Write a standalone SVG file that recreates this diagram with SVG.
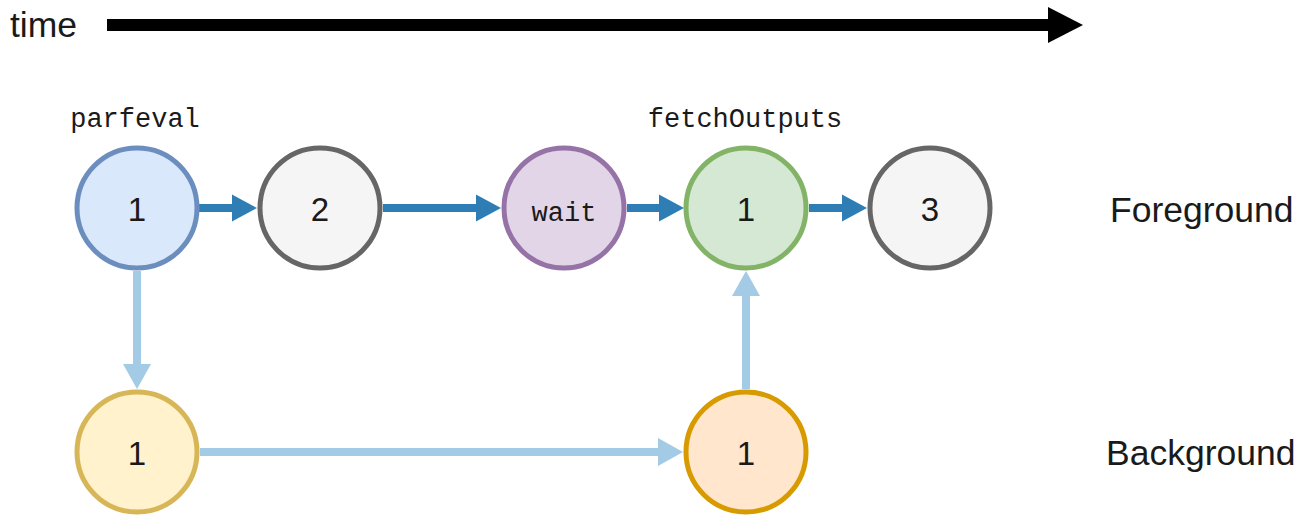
<svg xmlns="http://www.w3.org/2000/svg" width="1309" height="515" viewBox="0 0 1309 515">
  <style>
    .lbl { font-family: "Liberation Sans", Arial, sans-serif; fill: #1a1a1a; font-size: 35.5px; }
    .num { font-family: "Liberation Sans", Arial, sans-serif; font-size: 33px; fill: #1a1a1a; text-anchor: middle; }
    .mono { font-family: "Liberation Mono", "DejaVu Sans Mono", monospace; font-size: 27px; fill: #1a1a1a; text-anchor: middle; }
    .node { stroke-width: 5; }
    .dark { stroke: #2e7eb5; stroke-width: 8; fill: none; marker-end: url(#ahDark); }
    .light { stroke: #a3cbe6; stroke-width: 8; fill: none; marker-end: url(#ahLight); }
  </style>
  <defs>
    <marker id="ahDark" markerUnits="userSpaceOnUse" markerWidth="25" markerHeight="27" refX="5" refY="13.5" orient="auto" overflow="visible">
      <path d="M0,0 L25,13.5 L0,27 Z" fill="#2e7eb5"/>
    </marker>
    <marker id="ahLight" markerUnits="userSpaceOnUse" markerWidth="25" markerHeight="28" refX="5" refY="14" orient="auto" overflow="visible">
      <path d="M0,0 L25,14 L0,28 Z" fill="#a3cbe6"/>
    </marker>
  </defs>
  <rect width="1309" height="515" fill="#ffffff"/>

  <g id="timeline">
    <text class="lbl" x="10" y="37">time</text>
    <line x1="107" y1="25" x2="1052" y2="25" stroke="#000" stroke-width="12"/>
    <polygon points="1048,7 1083,25 1048,43" fill="#000"/>
  </g>

  <g id="connectors">
    <line class="dark" x1="199" y1="208" x2="237" y2="208"/>
    <line class="dark" x1="383" y1="208" x2="481" y2="208"/>
    <line class="dark" x1="627" y1="208" x2="664" y2="208"/>
    <line class="dark" x1="809" y1="208" x2="847" y2="208"/>
    <line class="light" x1="137" y1="271" x2="137" y2="369"/>
    <line class="light" x1="200" y1="452" x2="663" y2="452"/>
    <line class="light" x1="746" y1="389" x2="746" y2="291"/>
  </g>

  <g id="fg1">
    <text class="mono" x="135" y="127">parfeval</text>
    <circle class="node" cx="137" cy="208" r="60" fill="#dae8fc" stroke="#6c8ebf"/>
    <text class="num" x="137" y="221">1</text>
  </g>
  <g id="fg2">
    <circle class="node" cx="320" cy="208" r="60" fill="#f5f5f5" stroke="#666666"/>
    <text class="num" x="320" y="221">2</text>
  </g>
  <g id="fgWait">
    <circle class="node" cx="564" cy="208" r="60" fill="#e1d5e7" stroke="#9673a6"/>
    <text class="mono" x="564" y="221">wait</text>
  </g>
  <g id="fgFetch">
    <text class="mono" x="745" y="127">fetchOutputs</text>
    <circle class="node" cx="746" cy="208" r="60" fill="#d5e8d4" stroke="#82b366"/>
    <text class="num" x="746" y="221">1</text>
  </g>
  <g id="fg3">
    <circle class="node" cx="930" cy="208" r="60" fill="#f5f5f5" stroke="#666666"/>
    <text class="num" x="930" y="221">3</text>
  </g>
  <g id="bg1">
    <circle class="node" cx="137" cy="452" r="60" fill="#fff2cc" stroke="#d6b656"/>
    <text class="num" x="137" y="465">1</text>
  </g>
  <g id="bg2">
    <circle class="node" cx="746" cy="452" r="60" fill="#ffe6cc" stroke="#d79b00"/>
    <text class="num" x="746" y="465">1</text>
  </g>

  <g id="rowLabels">
    <text class="lbl" x="1110" y="222">Foreground</text>
    <text class="lbl" x="1106" y="465">Background</text>
  </g>
</svg>
